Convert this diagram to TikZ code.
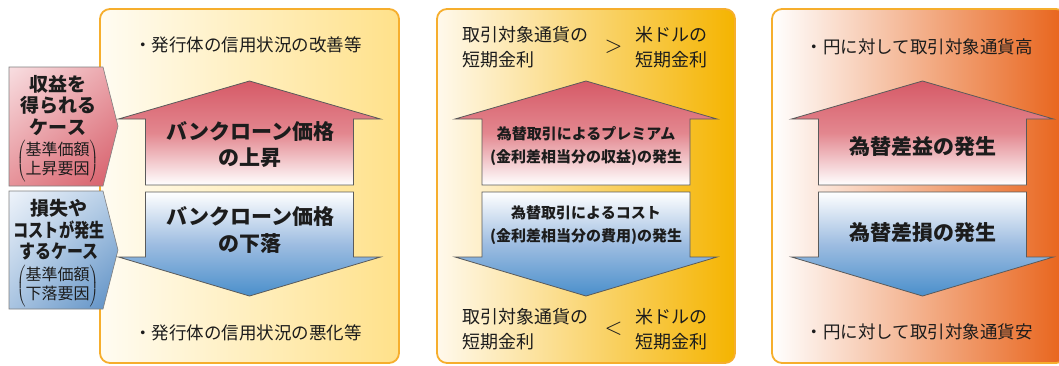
\documentclass[tikz,border=0pt]{standalone}
\usepackage{fontspec}
\usepackage{graphicx}
\setmainfont{Noto Sans CJK JP}
\usetikzlibrary{positioning,shadings}
\definecolor{paneledge}{HTML}{F6AE2D}
\definecolor{ink}{HTML}{1C1C1C}
\definecolor{arrowedge}{HTML}{5A5A5A}
\definecolor{upred}{HTML}{D65A67}
\definecolor{upmid}{HTML}{E3878F}
\definecolor{downblue}{HTML}{4A8FCB}
\definecolor{downmid}{HTML}{9EBDE1}
\definecolor{creamA}{HTML}{FFFCF2}
\definecolor{creamB}{HTML}{FFE18A}
\definecolor{goldA}{HTML}{FFF9EC}
\definecolor{goldB}{HTML}{F5B400}
\definecolor{orangeB}{HTML}{E8631A}
\definecolor{pinkUL}{HTML}{F8DEE1}
\definecolor{pinkUR}{HTML}{EAA3A9}
\definecolor{pinkLL}{HTML}{E69299}
\definecolor{pinkLR}{HTML}{D65C68}
\definecolor{skyUL}{HTML}{EEF3FA}
\definecolor{skyUR}{HTML}{B5CDE6}
\definecolor{skyLL}{HTML}{A9C4E1}
\definecolor{skyLR}{HTML}{5A8EC4}
\begin{document}
\begin{tikzpicture}[x=1pt, y=-1pt,
    panel/.style = {draw=paneledge, line width=1.8pt, rounded corners=10pt},
    uparrow/.style = {draw=arrowedge, line width=0.8pt, top color=upred, bottom color=white, middle color=upmid},
    downarrow/.style = {draw=arrowedge, line width=0.8pt, top color=white, bottom color=downblue, middle color=downmid},
    casebox/.style = {draw=gray, line width=0.6pt},
    big/.style = {font=\bfseries\fontsize{21}{26.5}\selectfont, align=center, text=ink, inner sep=0pt},
    mid/.style = {font=\bfseries\fontsize{15}{23}\selectfont, align=center, text=ink, inner sep=0pt},
    note/.style = {font=\fontsize{17.5}{20}\selectfont, text=ink, inner sep=0pt},
    rate/.style = {font=\fontsize{18}{25}\selectfont, align=left, text=ink, inner sep=0pt, anchor=west},
    case/.style = {font=\bfseries\fontsize{19}{21.5}\selectfont, align=center, text=ink, inner sep=0pt},
    why/.style = {font=\fontsize{16}{19}\selectfont, text=ink, inner sep=0pt}]
    \useasboundingbox (0,0) rectangle (1059,365);
    % panels
    \draw[panel, left color=creamA, right color=creamB] (100,9) rectangle (399,363);
    \draw[panel, left color=goldA, right color=goldB] (437,9) rectangle (735,363);
    \draw[panel, left color=white, right color=orangeB] (772,9) rectangle (1066,363);
    % left case boxes
    \draw[casebox, upper left=pinkUL, upper right=pinkUR, lower left=pinkLL, lower right=pinkLR]
        (9,67) -- (103,67) -- (118,126) -- (103,186) -- (9,186) -- cycle;
    \draw[casebox, upper left=skyUL, upper right=skyUR, lower left=skyLL, lower right=skyLR]
        (9,191) -- (103,191) -- (118,250) -- (103,309) -- (9,309) -- cycle;
    % arrows
    \foreach \cx in {249.5,586,922.5} {
        \draw[uparrow] ({\cx-104},185) -- ({\cx-104},119) -- ({\cx-131},119) -- (\cx,81)
            -- ({\cx+131},119) -- ({\cx+104},119) -- ({\cx+104},185) -- cycle;
        \draw[downarrow] ({\cx-104},192) -- ({\cx-104},257) -- ({\cx-131},257) -- (\cx,296)
            -- ({\cx+131},257) -- ({\cx+104},257) -- ({\cx+104},192) -- cycle;
    }
    % case labels
    \node[case] (gaincase) at (58,105) {収益を\\得られる\\ケース};
    \node[why] (gainwhy) at (57.5,161) {$\left(\rule[-17pt]{0pt}{35pt}\begin{tabular}{@{}c@{}}基準価額\\上昇要因\end{tabular}\right)$};
    \node[case] (losscase) at (59,230) {損失や\\\scalebox{0.8}[1]{コストが発生}\\\scalebox{0.84}[1]{するケース}};
    \node[why] (losswhy) at (57.5,286) {$\left(\rule[-17pt]{0pt}{35pt}\begin{tabular}{@{}c@{}}基準価額\\下落要因\end{tabular}\right)$};
    % panel 1
    \node[note] (creditup) at (248,45) {・発行体の信用状況の改善等};
    \node[big] (loanup) at (250,144.5) {バンクローン価格\\の上昇};
    \node[big] (loandown) at (250,230) {バンクローン価格\\の下落};
    \node[note] (creditdown) at (248,333) {・発行体の信用状況の悪化等};
    % panel 2
    \node[rate] (tgtrateup) at (462,47.5) {取引対象通貨の\\短期金利};
    \node[inner sep=0pt, text=ink] (gtsign) at (613.5,47) {\scalebox{2.3}{$>$}};
    \node[rate] (usdrateup) at (635,47.5) {米ドルの\\短期金利};
    \node[mid] (premium) at (586,146) {為替取引によるプレミアム\\(金利差相当分の収益)の発生};
    \node[mid] (cost) at (586,225.5) {為替取引によるコスト\\(金利差相当分の費用)の発生};
    \node[rate] (tgtratedown) at (462,329.5) {取引対象通貨の\\短期金利};
    \node[inner sep=0pt, text=ink] (ltsign) at (613.5,329) {\scalebox{2.3}{$<$}};
    \node[rate] (usdratedown) at (635,329.5) {米ドルの\\短期金利};
    % panel 3
    \node[note] (yenweak) at (919,47) {・円に対して取引対象通貨高};
    \node[big] (fxgain) at (922.5,147) {為替差益の発生};
    \node[big] (fxloss) at (922.5,233) {為替差損の発生};
    \node[note] (yenstrong) at (919,332) {・円に対して取引対象通貨安};
\end{tikzpicture}
\end{document}
